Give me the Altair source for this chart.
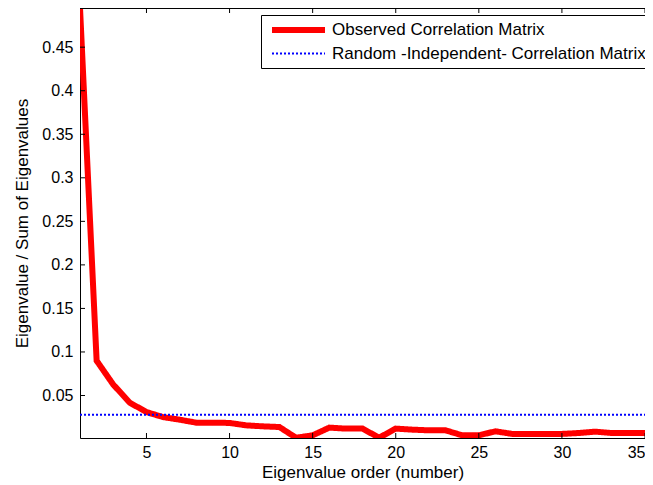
import altair as alt
import pandas as pd

# ---- data ----
order = list(range(1, 37))
observed = [0.495, 0.090, 0.0626, 0.0417, 0.031, 0.0252, 0.0222, 0.0188, 0.0188, 0.0185,
            0.0157, 0.0146, 0.0138, 0.0015, 0.0043, 0.0131, 0.0120, 0.0120, 0.0015, 0.0120,
            0.0108, 0.0100, 0.0100, 0.0043, 0.0043, 0.0089, 0.0059, 0.0059, 0.0059, 0.0059,
            0.0069, 0.0085, 0.0069, 0.0069, 0.0069, 0.0069]
random_level = 0.028
series_names = ["Observed Correlation Matrix", "Random -Independent- Correlation Matrix"]
x_ticks = [5, 10, 15, 20, 25, 30, 35]
y_ticks = [0.05, 0.1, 0.15, 0.2, 0.25, 0.3, 0.35, 0.4, 0.45]
x_title = "Eigenvalue order (number)"
y_title = "Eigenvalue / Sum of Eigenvalues"

W, H = 565, 430
FONT = "Liberation Sans"

rows = []
for o, v in zip(order, observed):
    rows.append({"x": o, "y": v, "series": series_names[0]})
for o in order:
    rows.append({"x": o, "y": random_level, "series": series_names[1]})
df = pd.DataFrame(rows)

xt = pd.DataFrame({"x": x_ticks})
yt = pd.DataFrame({"y": y_ticks})

xscale = alt.Scale(domain=[1, 35], nice=False, zero=False)
yscale = alt.Scale(domain=[0.0012, 0.495], nice=False, zero=False)

X = alt.X("x:Q", scale=xscale, title=x_title,
          axis=alt.Axis(values=x_ticks, ticks=False, grid=False, labelPadding=6,
                        titlePadding=4, format="~g", labelFlush=True))
Y = alt.Y("y:Q", scale=yscale, title=y_title,
          axis=alt.Axis(values=y_ticks, ticks=False, grid=False, labelPadding=7,
                        titlePadding=10, format="~g", labelFlush=False))

lines = alt.Chart(df).mark_line(clip=True, strokeCap="butt", strokeJoin="miter").encode(
    x=X, y=Y,
    color=alt.Color("series:N", sort=series_names,
                    scale=alt.Scale(domain=series_names, range=["#ff0000", "#0000ff"]),
                    legend=alt.Legend(title=None, orient="none", legendX=181, legendY=7,
                                      symbolType="M-0.667,0H8.167", symbolSize=144,
                                      strokeColor="black", fillColor="white",
                                      padding=6, rowPadding=2, labelOffset=47,
                                      labelFontSize=17, labelFont=FONT, labelColor="black",
                                      labelLimit=500)),
    strokeDash=alt.StrokeDash("series:N", sort=series_names,
                              scale=alt.Scale(domain=series_names, range=[[1, 0], [2, 2]]),
                              legend=alt.Legend(title=None)),
    strokeWidth=alt.StrokeWidth("series:N", sort=series_names,
                                scale=alt.Scale(domain=series_names, range=[6, 2]),
                                legend=alt.Legend(title=None)),
)

frame_top = alt.Chart(xt).mark_rule(color="black", strokeWidth=1).encode(
    x=alt.value(0), x2=alt.value(W), y=alt.value(0))
xt_top = alt.Chart(xt).mark_rule(color="black", strokeWidth=1).encode(
    x=X, y=alt.value(0), y2=alt.value(5))
xt_bot = alt.Chart(xt).mark_rule(color="black", strokeWidth=1).encode(
    x=X, y=alt.value(H), y2=alt.value(H - 5))
yt_left = alt.Chart(yt).mark_rule(color="black", strokeWidth=1).encode(
    y=Y, x=alt.value(0), x2=alt.value(5))

chart = alt.layer(lines, frame_top, xt_top, xt_bot, yt_left).properties(
    width=W, height=H,
    background="white",
    autosize=alt.AutoSizeParams(type="none"),
    padding={"left": 72, "top": 0, "right": 0, "bottom": 47},
).configure_view(strokeWidth=0).configure_axis(
    domainColor="black", domainWidth=1, labelColor="black", titleColor="black",
    labelFont=FONT, titleFont=FONT, labelFontSize=16, titleFontSize=17,
    titleFontWeight="normal",
)

chart.save("out.html", embed_options={"renderer": "svg", "actions": False})
